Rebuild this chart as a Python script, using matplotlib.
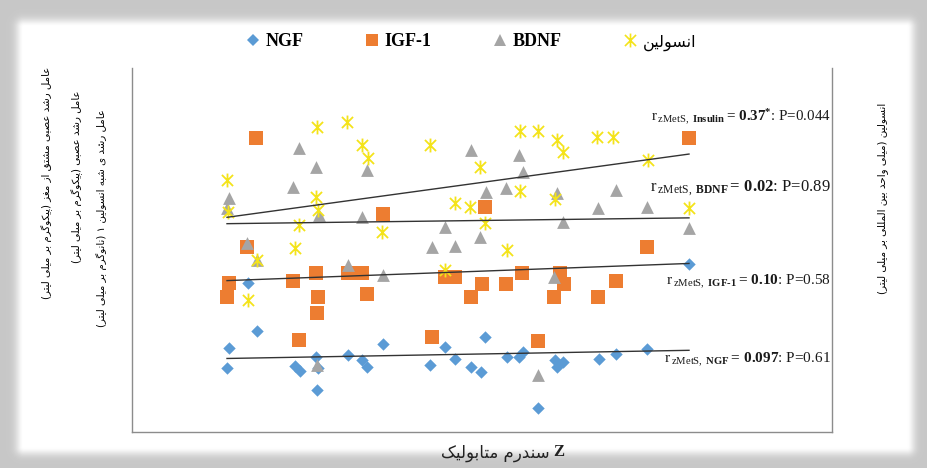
import numpy as np
import matplotlib
matplotlib.use("Agg")
import matplotlib.pyplot as plt
from matplotlib.path import Path
from matplotlib.lines import Line2D
from matplotlib import font_manager, ft2font

# ---------------------------------------------------------------- data
# z-score of metabolic syndrome (x) and marker level (arbitrary plotting units)
ngf_x = [-1.84, -1.75, -2.03, -2.05, -1.37, -1.32, -1.16, -1.14, -1.15, -0.84,
         -0.70, -0.65, -0.49, -0.02, 0.13, 0.23, 0.39, 0.49, 0.53, 0.75,
         0.87, 0.91, 1.06, 1.23, 1.25, 1.31, 1.67, 1.84, 2.15, 2.57]
ngf_y = [14.9, 10.1, 8.4, 6.4, 6.6, 6.1, 7.5, 6.4, 4.2, 7.7,
         7.2, 6.5, 8.8, 6.7, 8.5, 7.3, 6.5, 6.0, 9.5, 7.5,
         7.5, 8.0, 2.4, 7.2, 6.5, 7.0, 7.3, 7.8, 8.3, 16.8]

igf_x = [-1.76, -0.49, -1.85, -2.03, -2.05, -1.39, -1.16, -0.84, -0.70, -1.14,
         -1.15, -0.65, -1.33, 0.00, 0.13, 0.23, 0.50, 0.39, 0.53, 0.74,
         0.90, 1.28, 1.32, 1.22, 1.66, 1.84, 1.06, 2.15, 2.57]
igf_y = [29.4, 21.8, 18.5, 14.9, 13.5, 15.1, 15.9, 15.9, 15.9, 13.5,
         11.9, 13.8, 9.2, 9.5, 15.5, 15.5, 14.8, 13.5, 22.5, 14.8,
         15.9, 15.9, 14.8, 13.5, 13.5, 15.1, 9.1, 18.5, 29.4]

bdnf_x = [-1.33, -1.16, -1.39, -0.65, -2.03, -2.05, -1.13, -0.70, 0.13, -1.85,
          -1.75, 0.00, -0.84, -0.49, -1.15, 0.39, 0.87, 0.91, 0.54, 0.74,
          1.25, 1.84, 1.66, 2.15, 1.31, 0.23, 0.48, 2.57, 1.22, 1.06]
bdnf_y = [28.4, 26.5, 24.5, 26.2, 23.4, 22.4, 21.7, 21.5, 20.5, 18.9,
          17.2, 18.5, 16.7, 15.7, 6.7, 28.2, 27.7, 26.0, 24.0, 24.4,
          23.9, 24.2, 22.4, 22.5, 21.0, 18.6, 19.5, 20.4, 15.5, 5.7]

ins_x = [-2.05, -1.15, -0.85, -0.70, -0.64, -1.16, -1.14, -1.33, -1.37, -0.50,
         -1.75, -1.84, -0.02, -2.04, 0.88, 1.06, 1.25, 1.31, 1.65, 1.81,
         0.48, 0.88, 0.23, 0.38, 0.53, 0.75, 1.23, 2.16, 2.57, 0.13]
ins_y = [25.2, 30.5, 31.0, 28.7, 27.4, 23.5, 22.2, 20.7, 18.4, 20.0,
         17.2, 13.2, 28.7, 22.0, 30.1, 30.1, 29.2, 28.0, 29.5, 29.5,
         26.5, 24.1, 22.9, 22.5, 20.9, 18.2, 23.3, 27.2, 22.4, 16.2]

series_names = ["NGF", "IGF-1", "BDNF", "انسولین"]
corr_r = ["0.097", "0.10", "0.02", "0.37*"]
corr_p = ["0.61", "0.58", "0.89", "0.044"]
corr_sub = ["NGF", "IGF-1", "BDNF", "Insulin"]

ylabel_bdnf = "عامل رشد عصبی مشتق از مغز (پیکوگرم بر میلی لیتر)"
ylabel_ngf = "عامل رشد عصبی (پیکوگرم بر میلی لیتر)"
ylabel_igf = "عامل رشد ی شبه انسولین ۱ (نانوگرم بر میلی لیتر)"
ylabel_ins = "انسولین (میلی واحد بین المللی بر میلی لیتر)"
xlabel_fa = "سندرم متابولیک"

# ------------------------------------------------------- Persian shaping
AR_FONT = "DejaVu Sans"
_cmap = ft2font.FT2Font(font_manager.findfont(AR_FONT)).get_charmap()


def _has(ch):
    return ord(ch) in _cmap


FORMS = {
    "\u0627": ("\uFE8D", "\uFE8E", None, None),
    "\u0628": ("\uFE8F", "\uFE90", "\uFE91", "\uFE92"),
    "\u062A": ("\uFE95", "\uFE96", "\uFE97", "\uFE98"),
    "\u062D": ("\uFEA1", "\uFEA2", "\uFEA3", "\uFEA4"),
    "\u062F": ("\uFEA9", "\uFEAA", None, None),
    "\u0631": ("\uFEAD", "\uFEAE", None, None),
    "\u0632": ("\uFEAF", "\uFEB0", None, None),
    "\u0633": ("\uFEB1", "\uFEB2", "\uFEB3", "\uFEB4"),
    "\u0634": ("\uFEB5", "\uFEB6", "\uFEB7", "\uFEB8"),
    "\u0635": ("\uFEB9", "\uFEBA", "\uFEBB", "\uFEBC"),
    "\u0639": ("\uFEC9", "\uFECA", "\uFECB", "\uFECC"),
    "\u063A": ("\uFECD", "\uFECE", "\uFECF", "\uFED0"),
    "\u0642": ("\uFED5", "\uFED6", "\uFED7", "\uFED8"),
    "\u0644": ("\uFEDD", "\uFEDE", "\uFEDF", "\uFEE0"),
    "\u0645": ("\uFEE1", "\uFEE2", "\uFEE3", "\uFEE4"),
    "\u0646": ("\uFEE5", "\uFEE6", "\uFEE7", "\uFEE8"),
    "\u0647": ("\uFEE9", "\uFEEA", "\uFEEB", "\uFEEC"),
    "\u0648": ("\uFEED", "\uFEEE", None, None),
    "\u06CC": ("\uFBFC", "\uFBFD", "\uFBFE", "\uFBFF"),
    "\u067E": ("\uFB56", "\uFB57", "\uFB58", "\uFB59"),
    "\u06A9": ("\uFB8E", "\uFB8F", "\uFB90", "\uFB91"),
    "\u06AF": ("\uFB92", "\uFB93", "\uFB94", "\uFB95"),
}
FALLBACK = {
    "\u06CC": ("\uFEEF", "\uFEF0", "\uFEF3", "\uFEF4"),
    "\u06A9": ("\uFED9", "\uFEDA", "\uFEDB", "\uFEDC"),
}
for k, v in FALLBACK.items():
    if not all(_has(c) for c in FORMS[k]):
        FORMS[k] = v
MIRROR = {"(": ")", ")": "("}


def fa(text):
    out = []
    n = len(text)
    for i, c in enumerate(text):
        if c not in FORMS:
            out.append(c)
            continue
        iso, fin, ini, med = FORMS[c]
        prev = text[i - 1] if i > 0 else ""
        nxt = text[i + 1] if i < n - 1 else ""
        jp = prev in FORMS and FORMS[prev][2] is not None
        jn = nxt in FORMS and ini is not None
        if jp and jn:
            f = med
        elif jp:
            f = fin
        elif jn:
            f = ini
        else:
            f = iso
        out.append(f)
    return "".join(MIRROR.get(ch, ch) for ch in "".join(out)[::-1])


# ------------------------------------------------------------- styling
plt.rcParams["mathtext.fontset"] = "custom"
plt.rcParams["mathtext.rm"] = "Liberation Serif"
plt.rcParams["mathtext.bf"] = "Liberation Serif:bold"
plt.rcParams["mathtext.it"] = "Liberation Serif:italic"

C_NGF = "#5B9BD5"
C_IGF = "#ED7D31"
C_BDNF = "#A5A5A5"
C_INS = "#F4E31A"

# asterisk-style star: a vertical stroke crossed by an X
STAR = Path([(0, -1), (0, 1), (-0.8, -0.8), (0.8, 0.8), (-0.8, 0.8), (0.8, -0.8)],
            [Path.MOVETO, Path.LINETO, Path.MOVETO, Path.LINETO, Path.MOVETO, Path.LINETO])

W, H = 928, 468
fig = plt.figure(figsize=(W / 100, H / 100), dpi=100)
fig.patch.set_facecolor("white")

# soft grey frame around the white card
yy, xx = np.mgrid[0:H, 0:W] + 0.5
dx = np.maximum(np.maximum(24 - xx, xx - 907), 0)
dy = np.maximum(np.maximum(27 - yy, yy - 447), 0)
d = np.hypot(dx, dy)
bg = 1 - 0.22 * (1 - np.exp(-(d / 8.0) ** 2))
bax = fig.add_axes([0, 0, 1, 1], zorder=-5)
bax.imshow(bg, cmap="gray", vmin=0, vmax=1, aspect="auto", interpolation="bilinear")
bax.axis("off")


def px(x, y):
    return x / W, 1 - y / H


l, b = px(132, 432)
r, t = px(832, 68)
ax = fig.add_axes([l, b, r - l, t - b])
ax.set_facecolor("none")
ax.set_xlim(-3.0, 4.0)
ax.set_ylim(0, 36.4)
ax.set_xticks([])
ax.set_yticks([])
ax.spines["top"].set_visible(False)
for s in ("left", "right", "bottom"):
    ax.spines[s].set_color("#8c8c8c")
    ax.spines[s].set_linewidth(1.0)

ax.scatter(ngf_x, ngf_y, marker="D", s=40, color=C_NGF, linewidths=0, zorder=3)
ax.scatter(igf_x, igf_y, marker="s", s=88, color=C_IGF, linewidths=0, zorder=3)
ax.scatter(bdnf_x, bdnf_y, marker="^", s=85, color=C_BDNF, linewidths=0, zorder=3)
ax.scatter(ins_x, ins_y, marker=STAR, s=100, color=C_INS, linewidths=1.3, zorder=3)

# linear trend lines
for xs, ys in ((ngf_x, ngf_y), (igf_x, igf_y), (bdnf_x, bdnf_y), (ins_x, ins_y)):
    k, c0 = np.polyfit(xs, ys, 1)
    xl = np.array([min(xs), max(xs)])
    ax.plot(xl, k * xl + c0, color="#333333", lw=1.0, zorder=4)

# correlation annotations
ann_y = [0.198, 0.412, 0.670, 0.862]
ann_size = [11, 11, 12, 10.8]
for sub, rv, pv, yv, fs in zip(corr_sub, corr_r, corr_p, ann_y, ann_size):
    rv_m = rv.replace("*", "^{*}")
    txt = (r"$\mathrm{r}\,{}_{\mathrm{zMetS,}\ \mathbf{" + sub.replace("-", "\u2010") + r"}}"
           r"\mathbf{=\,}\mathbf{" + rv_m + r"}$" + ": P=" + pv)
    ax.text(0.998, yv, txt, transform=ax.transAxes, ha="right", va="center",
            fontsize=fs, family="Liberation Serif", color="#1a1a1a", zorder=5)

# legend
handles = [
    Line2D([], [], ls="none", marker="D", ms=6, color=C_NGF, mew=0),
    Line2D([], [], ls="none", marker="s", ms=9, color=C_IGF, mew=0),
    Line2D([], [], ls="none", marker="^", ms=9, color=C_BDNF, mew=0),
    Line2D([], [], ls="none", marker=STAR, ms=10, color=C_INS, mew=1.2),
]
labels = [series_names[0], series_names[1], series_names[2], fa(series_names[3])]
leg = fig.legend(handles, labels, loc="center", bbox_to_anchor=(px(471, 0)[0], px(0, 42)[1]),
                 ncol=4, frameon=False, handlelength=0.8, handletextpad=0.3,
                 columnspacing=3.4, prop={"family": "Liberation Serif", "weight": "bold", "size": 13})
leg.get_texts()[3].set_fontfamily(AR_FONT)
leg.get_texts()[3].set_fontweight("normal")
leg.get_texts()[3].set_fontsize(11.5)

# axis titles
for (x, y), txt in (((47, 183), ylabel_bdnf), ((77, 177), ylabel_ngf), ((102, 218), ylabel_igf)):
    fig.text(*px(x, y), fa(txt), rotation=90, ha="center", va="center",
             fontsize=7.4, family=AR_FONT, color="#000000")
fig.text(*px(883, 198), fa(ylabel_ins), rotation=90, ha="center", va="center",
         fontsize=7.5, family=AR_FONT, color="#000000")
fig.text(*px(550, 453), fa(xlabel_fa), ha="right", va="center",
         fontsize=12, family=AR_FONT, color="#222222")
fig.text(*px(553, 452), "Z", ha="left", va="center", fontsize=12,
         family="Liberation Serif", weight="bold", color="#222222")

fig.savefig("out.png", dpi=100)
